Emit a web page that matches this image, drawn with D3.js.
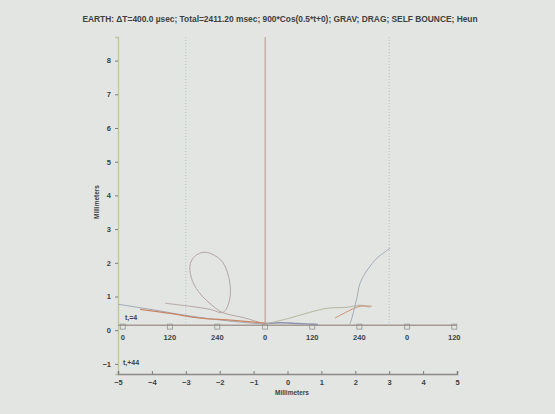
<!DOCTYPE html>
<html>
<head>
<meta charset="utf-8">
<script src="https://cdn.jsdelivr.net/npm/d3@7"></script>
<style>
  html, body { margin: 0; padding: 0; background: #e3e5e3; }
  text { font-family: "Liberation Sans", Arial, sans-serif; }
</style>
</head>
<body>
<script>
// chart values
const titleText = "EARTH: \u0394T=400.0 \u00b5sec; Total=2411.20 msec; 900*Cos(0.5*t+0); GRAV; DRAG; SELF BOUNCE; Heun";
const xTicks = [-5, -4, -3, -2, -1, 0, 1, 2, 3, 4, 5];
const yTicks = [-1, 0, 1, 2, 3, 4, 5, 6, 7, 8];
const gridX = [-3, 3];
const phaseX = [-4.86, -3.47, -2.07, -0.66, 0.73, 2.12, 3.53, 4.92];
const phaseLabels = ["0", "120", "240", "0", "120", "240", "0", "120"];
const phaseAxisY = 0.15;
const spikeX = -0.66;

// trajectories [x, y] in millimeters
const trackA = [[-5.0, 0.77], [-4.06, 0.62], [-2.88, 0.42], [-1.70, 0.27], [-0.66, 0.18]];
const trackLoop = [[-3.61, 0.80], [-2.88, 0.71], [-2.29, 0.62], [-1.90, 0.53], [-1.72, 0.85], [-1.70, 1.40],
  [-1.90, 2.00], [-2.23, 2.26], [-2.49, 2.31], [-2.75, 2.18], [-2.88, 1.90], [-2.80, 1.45], [-2.55, 1.05],
  [-2.20, 0.72], [-1.93, 0.53], [-1.25, 0.36], [-0.66, 0.18]];
const trackRed = [[-4.35, 0.62], [-3.47, 0.50], [-2.58, 0.36], [-1.70, 0.30], [-1.25, 0.26], [-0.66, 0.21]];
const trackRight = [[-0.66, 0.18], [0.07, 0.36], [0.66, 0.53], [1.17, 0.65], [1.76, 0.68], [2.14, 0.74], [2.43, 0.68]];
const trackRedRight = [[1.40, 0.36], [1.84, 0.59], [2.14, 0.71], [2.49, 0.71]];
const trackRise = [[1.84, 0.18], [1.90, 0.36], [2.05, 0.98], [2.14, 1.39], [2.35, 1.78], [2.64, 2.14], [2.82, 2.28], [3.02, 2.43]];
const trackFlat = [[-0.66, 0.2], [-0.2, 0.22], [0.3, 0.2], [0.9, 0.17]];

const width = 555, height = 414;
const textColor = "#3e413f";
const svg = d3.select("body").append("svg")
    .attr("width", width)
    .attr("height", height);

svg.append("rect").attr("width", width).attr("height", height).attr("fill", "#e3e5e3");

const x = d3.scaleLinear().domain([-5, 5]).range([118, 457]);
const y = d3.scaleLinear().domain([-1.3, 8.7]).range([374, 37]);

// title
svg.append("text")
    .attr("x", 280).attr("y", 22)
    .attr("text-anchor", "middle")
    .attr("fill", textColor)
    .style("font-size", "8.4px")
    .style("font-weight", "bold")
    .text(titleText);

// dotted grid lines
svg.selectAll(".grid").data(gridX).join("line")
    .attr("x1", d => x(d)).attr("x2", d => x(d))
    .attr("y1", y(8.7)).attr("y2", y(phaseAxisY))
    .attr("stroke", "#b3c4d2").attr("stroke-width", 1)
    .attr("stroke-dasharray", "1,2");

// left axis
const yAxis = svg.append("g")
    .attr("transform", `translate(${x(-5)},0)`)
    .call(d3.axisLeft(y).tickValues(yTicks).tickSize(3).tickPadding(4).tickFormat(d3.format("d")));
yAxis.select(".domain").attr("stroke", "#bcc59c").attr("stroke-width", 1.3);
yAxis.selectAll(".tick line").attr("stroke", "#7b7f7c");
yAxis.selectAll("text").style("font-size", "7.5px").style("font-weight", "bold").attr("fill", textColor);

// bottom axis
const xAxis = svg.append("g")
    .attr("transform", `translate(0,${y(-1.3)})`)
    .call(d3.axisBottom(x).tickValues(xTicks).tickSize(-3).tickPadding(6).tickFormat(d3.format("d")));
xAxis.select(".domain").attr("stroke", "#8d8a86").attr("stroke-width", 1.6);
xAxis.selectAll(".tick line").attr("stroke", "#7b7f7c");
xAxis.selectAll("text").style("font-size", "7.5px").style("font-weight", "bold").attr("fill", textColor);

// axis titles
svg.append("text")
    .attr("transform", `translate(99,202) rotate(-90)`)
    .attr("text-anchor", "middle")
    .attr("fill", textColor)
    .style("font-size", "6.5px").style("font-weight", "bold")
    .text("Millimeters");
svg.append("text")
    .attr("x", 292).attr("y", 395)
    .attr("text-anchor", "middle")
    .attr("fill", textColor)
    .style("font-size", "6.5px").style("font-weight", "bold")
    .text("Millimeters");

// vertical spike
svg.append("line")
    .attr("x1", x(spikeX)).attr("x2", x(spikeX))
    .attr("y1", y(8.7)).attr("y2", y(phaseAxisY))
    .attr("stroke", "#b89486").attr("stroke-width", 1);

// phase axis with square markers
svg.append("line")
    .attr("x1", x(-5)).attr("x2", x(5))
    .attr("y1", y(phaseAxisY)).attr("y2", y(phaseAxisY))
    .attr("stroke", "#a59a94").attr("stroke-width", 1.5);
svg.selectAll(".phase").data(phaseX).join("rect")
    .attr("x", d => x(d) - 2.5).attr("y", y(phaseAxisY) - 1)
    .attr("width", 5).attr("height", 5)
    .attr("fill", "none").attr("stroke", "#8f9590").attr("stroke-width", 0.8);
svg.selectAll(".phaseLabel").data(phaseX).join("text")
    .attr("x", d => x(d)).attr("y", y(phaseAxisY) + 15)
    .attr("text-anchor", "middle")
    .attr("fill", textColor)
    .style("font-size", "7.5px").style("font-weight", "bold")
    .text((d, i) => phaseLabels[i]);

svg.append("text").attr("x", 125).attr("y", 320).attr("fill", textColor)
    .style("font-size", "7px").style("font-weight", "bold").text("t,=4");
svg.append("text").attr("x", 123).attr("y", 365).attr("fill", textColor)
    .style("font-size", "7px").style("font-weight", "bold").text("t,+44");

// trajectories
const line = d3.line().x(d => x(d[0])).y(d => y(d[1])).curve(d3.curveCatmullRom);
const tracks = [
  { data: trackA, color: "#9fa8b4", w: 1 },
  { data: trackLoop, color: "#b5a5a2", w: 1 },
  { data: trackRed, color: "#c98565", w: 1.3 },
  { data: trackFlat, color: "#8e93ad", w: 1.4 },
  { data: trackRight, color: "#b3b69e", w: 1 },
  { data: trackRedRight, color: "#c98d72", w: 1 },
  { data: trackRise, color: "#a2adb7", w: 1 }
];
svg.selectAll(".track").data(tracks).join("path")
    .attr("d", d => line(d.data))
    .attr("fill", "none")
    .attr("stroke", d => d.color)
    .attr("stroke-width", d => d.w);
</script>
</body>
</html>
